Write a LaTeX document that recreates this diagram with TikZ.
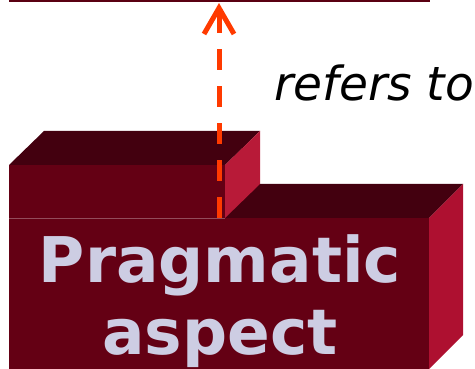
\documentclass[tikz,border=0pt]{standalone}
\usepackage{fontspec}
\setmainfont{DejaVu Sans}
\usetikzlibrary{arrows.meta,calc}

\definecolor{facefront}{HTML}{640014}
\definecolor{facetop}{HTML}{43000F}
\definecolor{faceside}{HTML}{AE1030}
\definecolor{tabside}{HTML}{B81A38}
\definecolor{refred}{HTML}{FF3A00}
\definecolor{lavender}{HTML}{CDCDE3}

\tikzset{
  front/.style={fill=facefront, draw=none, inner sep=0pt, outer sep=0pt},
  boxtext/.style={text=lavender, font=\bfseries\fontsize{63}{72}\selectfont, align=center},
  reflink/.style={draw=refred, line width=5pt, dash pattern=on 21pt off 16pt,
    -{Straight Barb[length=26pt, width=30pt]}},
}

\begin{document}
\begin{tikzpicture}[x=1pt, y=-1pt]
    \useasboundingbox (0,0) rectangle (475,369);
    % bottom edge of the box above
    \draw[draw=facefront!90!black, line width=2pt] (9,1) -- (430,1);
    \coordinate (upper) at (219,3);
    % Pragmatic aspect box
    \node[front, minimum width=420pt, minimum height=151pt, anchor=north west] (aspect) at (9,218) {};
    \fill[facetop] (aspect.north west) -- ++(35,-34) -- ++(419,0) -- (aspect.north east) -- cycle;
    \fill[faceside] (aspect.north east) -- ++(34,-34) -- ++(0,151) -- (aspect.south east) -- cycle;
    \node[boxtext] at (220,301) {Pragmatic\\aspect};
    % small tab on top
    \node[front, minimum width=216pt, minimum height=53pt, anchor=north west] (tab) at (9,165) {};
    \fill[facetop] (tab.north west) -- ++(35,-34) -- ++(216,0) -- (tab.north east) -- cycle;
    \fill[tabside] (tab.north east) -- ++(35,-34) -- ++(0,53) -- (tab.south east) -- cycle;
    \draw[facefront!70!white, line width=0.6pt] (tab.south west) -- (tab.south east);
    % link
    \draw[reflink] (upper |- tab.south) -- (upper);
    \node[anchor=base west, font=\itshape\fontsize{47}{52}\selectfont] (refers) at (271,101) {refers to};
\end{tikzpicture}
\end{document}
